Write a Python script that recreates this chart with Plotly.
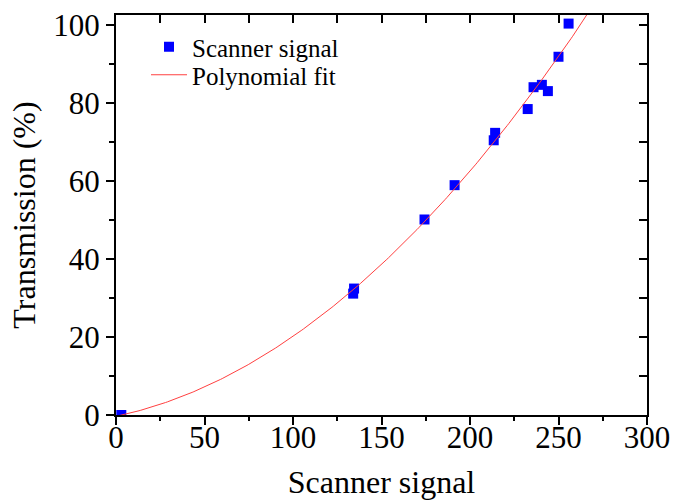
import numpy as np
import plotly.graph_objects as go

# Data
scanner_signal = [3, 134.0, 134.5, 174.3, 191.3, 213.4, 214.2, 232.6, 235.9, 240.6, 244.0, 250.0, 255.7]
transmission = [0.0, 31.1, 32.4, 50.1, 58.9, 70.4, 72.3, 78.4, 84.0, 84.6, 83.0, 91.8, 100.3]

x_ticks = [0, 50, 100, 150, 200, 250, 300]
y_ticks = [0, 20, 40, 60, 80, 100]

# Second-order polynomial fit of the measured points
coef = np.polyfit(scanner_signal, transmission, 2)
fit_x = np.linspace(0, 300, 301)
fit_y = np.polyval(coef, fit_x)

FONT = "Liberation Serif"
X_RANGE = [0, 300]
Y_RANGE = [0, 102.5]

fig = go.Figure()
fig.add_trace(go.Scatter(
    x=scanner_signal, y=transmission, mode="markers", name="Scanner signal",
    marker=dict(symbol="square", size=10, color="#0000FF", line=dict(width=0)),
    cliponaxis=True, legend="legend",
))
fig.add_trace(go.Scatter(
    x=fit_x, y=fit_y, mode="lines", name="Polynomial fit",
    line=dict(color="#FF4040", width=1), legend="legend2",
))
# invisible trace to activate top/right axes
fig.add_trace(go.Scatter(x=[None], y=[None], xaxis="x2", yaxis="y2",
                         showlegend=False, hoverinfo="skip"))

axis_common = dict(showgrid=False, zeroline=False, showline=True,
                   linecolor="black", linewidth=2, automargin=False)

legend_common = dict(xanchor="left", yanchor="middle", bgcolor="rgba(0,0,0,0)",
                     font=dict(size=25, family=FONT), itemwidth=36)

fig.update_layout(
    width=673, height=500,
    margin=dict(l=116, r=26, t=15, b=85),
    paper_bgcolor="white", plot_bgcolor="white",
    font=dict(family=FONT, color="black", size=25),
    xaxis=dict(
        range=X_RANGE, tickvals=x_ticks, ticks="outside", ticklen=8, tickwidth=2,
        tickcolor="black", tickfont=dict(size=31, family=FONT), ticklabelstandoff=-14,
        minor=dict(dtick=25, tick0=0, ticks="outside", ticklen=4, tickwidth=2, tickcolor="black"),
        title=dict(text="Scanner signal", font=dict(size=32, family=FONT), standoff=30),
        **axis_common,
    ),
    yaxis=dict(
        range=Y_RANGE, tickvals=y_ticks, ticks="outside", ticklen=8, tickwidth=2,
        tickcolor="black", tickfont=dict(size=31, family=FONT),
        minor=dict(dtick=10, tick0=0, ticks="outside", ticklen=5, tickwidth=2, tickcolor="black"),
        title=dict(text="Transmission (%)", font=dict(size=32, family=FONT), standoff=8),
        **axis_common,
    ),
    xaxis2=dict(
        range=X_RANGE, overlaying="x", side="top", anchor="y", dtick=25, tick0=0,
        ticks="inside", ticklen=8, tickwidth=2, tickcolor="black", showticklabels=False,
        **axis_common,
    ),
    yaxis2=dict(
        range=Y_RANGE, overlaying="y", side="right", anchor="x", dtick=10, tick0=0,
        ticks="inside", ticklen=8, tickwidth=2, tickcolor="black", showticklabels=False,
        **axis_common,
    ),
    legend=dict(x=0.0565, y=0.92, **legend_common),
    legend2=dict(x=0.0565, y=0.85, **legend_common),
    showlegend=True,
)

fig.write_html("out.html", config={"displayModeBar": False},
               post_script="document.body.style.margin='0';")
